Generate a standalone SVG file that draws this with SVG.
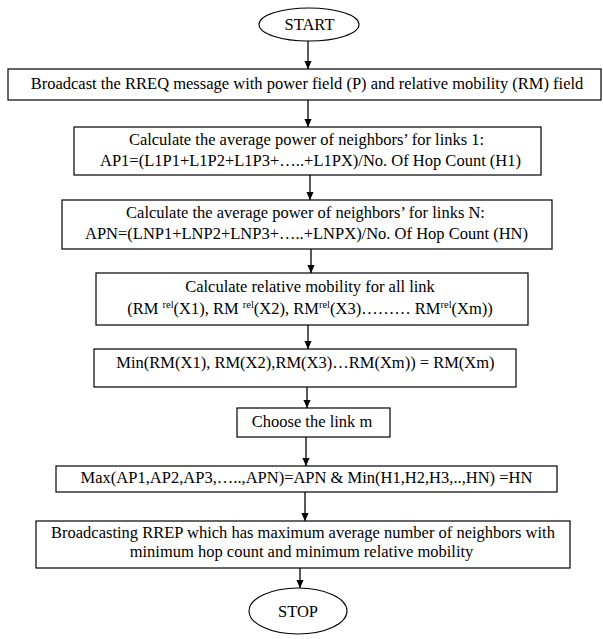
<svg xmlns="http://www.w3.org/2000/svg" width="603" height="639" viewBox="0 0 603 639">
<defs>
<style>
.box{fill:#fff;stroke:#000;stroke-width:1.2}
.term{fill:#fff;stroke:#000;stroke-width:1.1}
.lbl{font-family:"Liberation Serif","Times New Roman",serif;font-size:16.5px;fill:#000;text-anchor:middle}
.sup{font-size:10.5px}
.conn line{stroke:#000;stroke-width:1.3;fill:none}
</style>
<marker id="arr" markerUnits="userSpaceOnUse" markerWidth="8" markerHeight="8" refX="8" refY="4" orient="auto">
<path d="M0,0.4 L8,4 L0,7.6 z" fill="#000"/>
</marker>
</defs>
<rect width="603" height="639" fill="#fff"/>
<g class="conn" id="connectors">
<line x1="308" y1="41" x2="308" y2="69" marker-end="url(#arr)"/>
<line x1="308" y1="100" x2="308" y2="127" marker-end="url(#arr)"/>
<line x1="310" y1="175" x2="310" y2="200" marker-end="url(#arr)"/>
<line x1="311" y1="249" x2="311" y2="273" marker-end="url(#arr)"/>
<line x1="308" y1="325" x2="308" y2="349" marker-end="url(#arr)"/>
<line x1="307" y1="387" x2="307" y2="408" marker-end="url(#arr)"/>
<line x1="306" y1="437" x2="306" y2="466" marker-end="url(#arr)"/>
<line x1="305" y1="492" x2="305" y2="521" marker-end="url(#arr)"/>
<line x1="300" y1="568" x2="300" y2="588" marker-end="url(#arr)"/>
</g>
<g id="start">
<ellipse class="term" cx="309" cy="24.5" rx="50" ry="16.5"/>
<text class="lbl" x="309.5" y="30">START</text>
</g>
<g id="broadcast-rreq">
<rect class="box" x="8" y="69" width="593" height="31"/>
<text class="lbl" x="307" y="89">Broadcast the RREQ message with power field (P) and relative mobility (RM) field</text>
</g>
<g id="avg-power-1">
<rect class="box" x="74" y="127" width="467" height="48"/>
<text class="lbl" x="306.5" y="145">Calculate the average power of neighbors’  for links 1:</text>
<text class="lbl" x="310.5" y="166">AP1=(L1P1+L1P2+L1P3+…..+L1PX)/No. Of Hop Count (H1)</text>
</g>
<g id="avg-power-n">
<rect class="box" x="62" y="200" width="490" height="49"/>
<text class="lbl" x="305.5" y="218">Calculate the average power of neighbors’  for links N:</text>
<text class="lbl" x="306.5" y="239">APN=(LNP1+LNP2+LNP3+…..+LNPX)/No. Of Hop Count (HN)</text>
</g>
<g id="relative-mobility">
<rect class="box" x="96" y="273" width="432" height="52"/>
<text class="lbl" x="310" y="292">Calculate relative mobility for all link</text>
<text class="lbl" x="310" y="314">(RM <tspan class="sup" dy="-6">rel</tspan><tspan dy="6">(X1), RM </tspan><tspan class="sup" dy="-6">rel</tspan><tspan dy="6">(X2), RM</tspan><tspan class="sup" dy="-6">rel</tspan><tspan dy="6">(X3)……… RM</tspan><tspan class="sup" dy="-6">rel</tspan><tspan dy="6">(Xm))</tspan></text>
</g>
<g id="min-rm">
<rect class="box" x="94" y="349" width="422" height="38"/>
<text class="lbl" x="305.5" y="368">Min(RM(X1), RM(X2),RM(X3)…RM(Xm)) = RM(Xm)</text>
</g>
<g id="choose-link">
<rect class="box" x="237" y="408" width="153" height="29"/>
<text class="lbl" x="312" y="427">Choose the link m</text>
</g>
<g id="max-ap">
<rect class="box" x="56" y="466" width="501" height="26"/>
<text class="lbl" x="306.5" y="483">Max(AP1,AP2,AP3,…..,APN)=APN &amp; Min(H1,H2,H3,..,HN) =HN</text>
</g>
<g id="broadcast-rrep">
<rect class="box" x="36" y="521" width="534" height="47"/>
<text class="lbl" x="303" y="538">Broadcasting RREP which has maximum average number of neighbors with</text>
<text class="lbl" x="301.5" y="557">minimum hop count and minimum relative mobility</text>
</g>
<g id="stop">
<ellipse class="term" cx="298" cy="611" rx="49" ry="23"/>
<text class="lbl" x="298" y="617">STOP</text>
</g>
</svg>
